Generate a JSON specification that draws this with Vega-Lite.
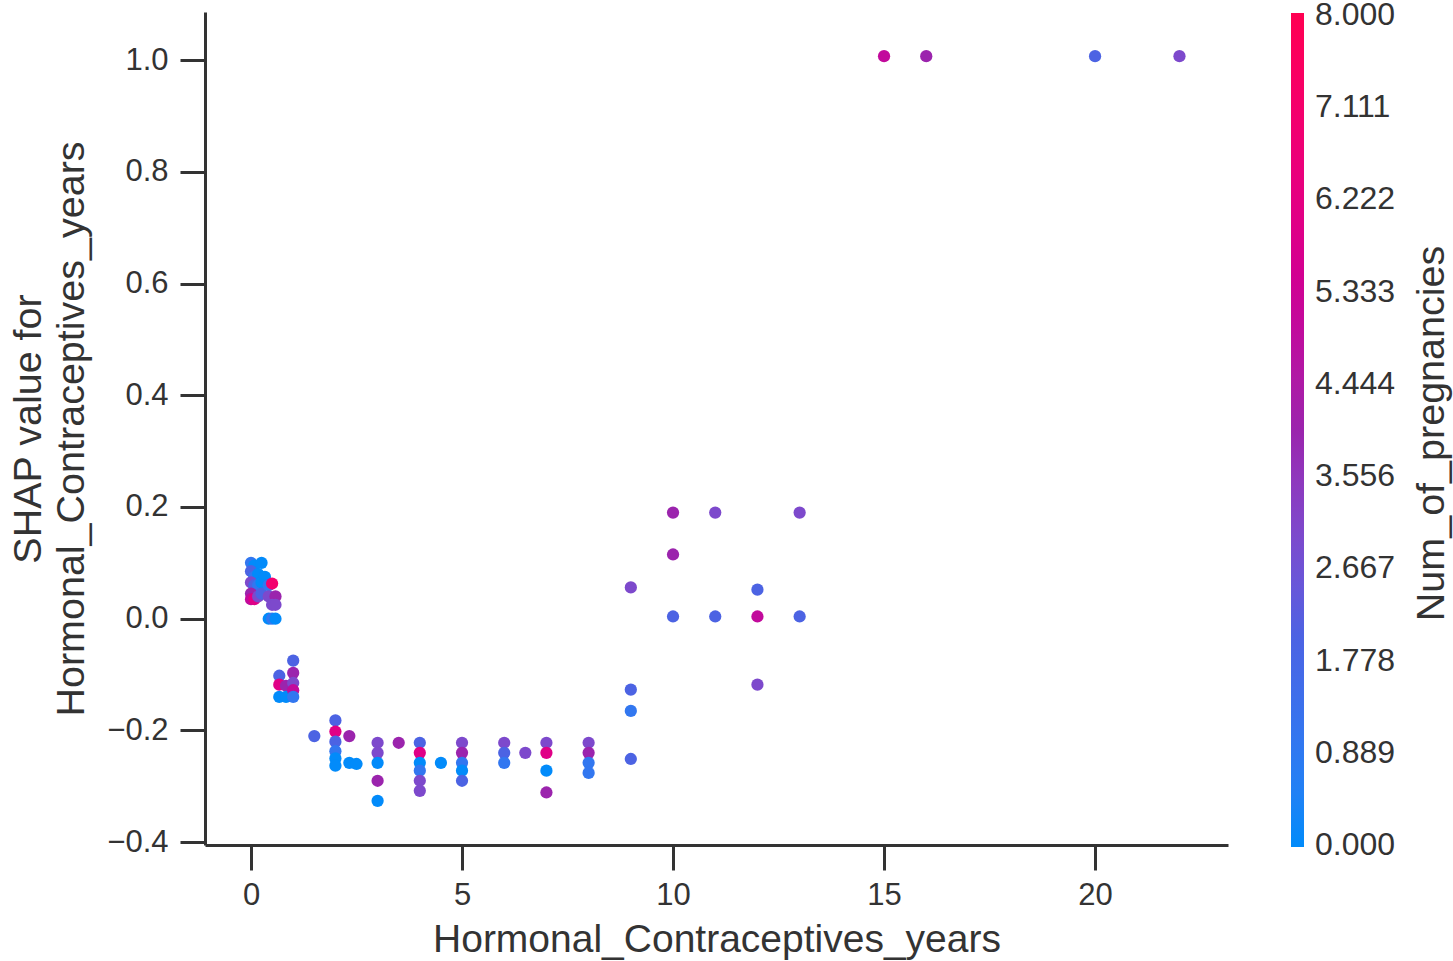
{
  "$schema": "https://vega.github.io/schema/vega-lite/v6.json",
  "width": 1023,
  "height": 833,
  "autosize": {"type": "none"},
  "padding": {"left": 205, "top": 12, "right": 225, "bottom": 116},
  "background": "white",
  "config": {"view": {"stroke": null}, "font": "Liberation Sans"},
  "title": {
    "text": "Num_of_pregnancies",
    "orient": "right",
    "frame": "group",
    "anchor": "middle",
    "angle": -90,
    "baseline": "top",
    "offset": 11,
    "dx": -5,
    "dy": -34,
    "font": "Liberation Sans",
    "fontSize": 39.5,
    "fontWeight": "normal",
    "color": "#333333"
  },
  "data": {
    "values": [
      {"years": 0, "shap": 0.10, "pregnancies": 1},
      {"years": 0.08, "shap": 0.095, "pregnancies": 0},
      {"years": 0.25, "shap": 0.10, "pregnancies": 0},
      {"years": 0, "shap": 0.085, "pregnancies": 2},
      {"years": 0.08, "shap": 0.075, "pregnancies": 1},
      {"years": 0.17, "shap": 0.08, "pregnancies": 0},
      {"years": 0, "shap": 0.065, "pregnancies": 3},
      {"years": 0.08, "shap": 0.06, "pregnancies": 2},
      {"years": 0.17, "shap": 0.06, "pregnancies": 1},
      {"years": 0.25, "shap": 0.065, "pregnancies": 0},
      {"years": 0, "shap": 0.045, "pregnancies": 4},
      {"years": 0, "shap": 0.035, "pregnancies": 5},
      {"years": 0.08, "shap": 0.035, "pregnancies": 6},
      {"years": 0.17, "shap": 0.04, "pregnancies": 3},
      {"years": 0.25, "shap": 0.045, "pregnancies": 2},
      {"years": 0.33, "shap": 0.075, "pregnancies": 0},
      {"years": 0.42, "shap": 0.06, "pregnancies": 1},
      {"years": 0.5, "shap": 0.063, "pregnancies": 7},
      {"years": 0.42, "shap": 0.04, "pregnancies": 3},
      {"years": 0.58, "shap": 0.04, "pregnancies": 4},
      {"years": 0.5, "shap": 0.025, "pregnancies": 3},
      {"years": 0.58, "shap": 0.025, "pregnancies": 3},
      {"years": 0.42, "shap": 0.0, "pregnancies": 0},
      {"years": 0.5, "shap": 0.0, "pregnancies": 1},
      {"years": 0.58, "shap": 0.0, "pregnancies": 0},
      {"years": 0.67, "shap": -0.102, "pregnancies": 2},
      {"years": 0.67, "shap": -0.118, "pregnancies": 6},
      {"years": 0.67, "shap": -0.14, "pregnancies": 0},
      {"years": 0.83, "shap": -0.12, "pregnancies": 4},
      {"years": 0.83, "shap": -0.14, "pregnancies": 0},
      {"years": 1, "shap": -0.075, "pregnancies": 2},
      {"years": 1, "shap": -0.097, "pregnancies": 4},
      {"years": 1, "shap": -0.115, "pregnancies": 3},
      {"years": 1, "shap": -0.128, "pregnancies": 5},
      {"years": 1, "shap": -0.14, "pregnancies": 1},
      {"years": 1.5, "shap": -0.21, "pregnancies": 2},
      {"years": 2, "shap": -0.182, "pregnancies": 2},
      {"years": 2, "shap": -0.202, "pregnancies": 6},
      {"years": 2, "shap": -0.22, "pregnancies": 2},
      {"years": 2, "shap": -0.237, "pregnancies": 1},
      {"years": 2, "shap": -0.25, "pregnancies": 0},
      {"years": 2, "shap": -0.263, "pregnancies": 0},
      {"years": 2.33, "shap": -0.21, "pregnancies": 4},
      {"years": 2.33, "shap": -0.258, "pregnancies": 0},
      {"years": 2.5, "shap": -0.26, "pregnancies": 0},
      {"years": 3, "shap": -0.222, "pregnancies": 3},
      {"years": 3, "shap": -0.24, "pregnancies": 3},
      {"years": 3, "shap": -0.258, "pregnancies": 0},
      {"years": 3, "shap": -0.29, "pregnancies": 4},
      {"years": 3, "shap": -0.326, "pregnancies": 0},
      {"years": 3.5, "shap": -0.222, "pregnancies": 4},
      {"years": 4, "shap": -0.222, "pregnancies": 2},
      {"years": 4, "shap": -0.24, "pregnancies": 6},
      {"years": 4, "shap": -0.258, "pregnancies": 0},
      {"years": 4, "shap": -0.272, "pregnancies": 1},
      {"years": 4, "shap": -0.29, "pregnancies": 3},
      {"years": 4, "shap": -0.308, "pregnancies": 3},
      {"years": 4.5, "shap": -0.258, "pregnancies": 0},
      {"years": 5, "shap": -0.222, "pregnancies": 3},
      {"years": 5, "shap": -0.24, "pregnancies": 4},
      {"years": 5, "shap": -0.258, "pregnancies": 1},
      {"years": 5, "shap": -0.272, "pregnancies": 0},
      {"years": 5, "shap": -0.29, "pregnancies": 2},
      {"years": 6, "shap": -0.222, "pregnancies": 3},
      {"years": 6, "shap": -0.24, "pregnancies": 2},
      {"years": 6, "shap": -0.258, "pregnancies": 1},
      {"years": 6.5, "shap": -0.24, "pregnancies": 3},
      {"years": 7, "shap": -0.222, "pregnancies": 3},
      {"years": 7, "shap": -0.24, "pregnancies": 6},
      {"years": 7, "shap": -0.272, "pregnancies": 0},
      {"years": 7, "shap": -0.311, "pregnancies": 4},
      {"years": 8, "shap": -0.222, "pregnancies": 3},
      {"years": 8, "shap": -0.24, "pregnancies": 4},
      {"years": 8, "shap": -0.258, "pregnancies": 1},
      {"years": 8, "shap": -0.276, "pregnancies": 1},
      {"years": 9, "shap": 0.056, "pregnancies": 3},
      {"years": 9, "shap": -0.127, "pregnancies": 2},
      {"years": 9, "shap": -0.165, "pregnancies": 1},
      {"years": 9, "shap": -0.251, "pregnancies": 2},
      {"years": 10, "shap": 0.19, "pregnancies": 4},
      {"years": 10, "shap": 0.115, "pregnancies": 4},
      {"years": 10, "shap": 0.004, "pregnancies": 2},
      {"years": 11, "shap": 0.19, "pregnancies": 3},
      {"years": 11, "shap": 0.004, "pregnancies": 2},
      {"years": 12, "shap": 0.052, "pregnancies": 2},
      {"years": 12, "shap": 0.004, "pregnancies": 5},
      {"years": 12, "shap": -0.118, "pregnancies": 3},
      {"years": 13, "shap": 0.19, "pregnancies": 3},
      {"years": 13, "shap": 0.004, "pregnancies": 2},
      {"years": 15, "shap": 1.007, "pregnancies": 5},
      {"years": 16, "shap": 1.007, "pregnancies": 4},
      {"years": 20, "shap": 1.007, "pregnancies": 2},
      {"years": 22, "shap": 1.007, "pregnancies": 3}
    ]
  },
  "mark": {"type": "circle", "size": 150, "opacity": 1},
  "encoding": {
    "x": {
      "field": "years",
      "type": "quantitative",
      "scale": {"domain": [-1.09, 23.15], "nice": false, "zero": false},
      "axis": {
        "title": "Hormonal_Contraceptives_years",
        "values": [0, 5, 10, 15, 20],
        "format": "d",
        "grid": false,
        "domainColor": "#333333",
        "domainWidth": 3,
        "tickColor": "#333333",
        "tickWidth": 3,
        "tickSize": 25,
        "labelFont": "Liberation Sans",
        "labelFontSize": 31,
        "labelColor": "#333333",
        "labelPadding": 10,
        "titleFont": "Liberation Sans",
        "titleFontSize": 39,
        "titleFontWeight": "normal",
        "titleColor": "#333333",
        "titlePadding": 10
      }
    },
    "y": {
      "field": "shap",
      "type": "quantitative",
      "scale": {"domain": [-0.405, 1.086], "nice": false, "zero": false},
      "axis": {
        "title": ["SHAP value for", "Hormonal_Contraceptives_years"],
        "values": [-0.4, -0.2, 0, 0.2, 0.4, 0.6, 0.8, 1.0],
        "format": ".1f",
        "grid": false,
        "domainColor": "#333333",
        "domainWidth": 3,
        "tickColor": "#333333",
        "tickWidth": 3,
        "tickSize": 25,
        "labelFont": "Liberation Sans",
        "labelFontSize": 31,
        "labelColor": "#333333",
        "labelPadding": 12,
        "titleFont": "Liberation Sans",
        "titleFontSize": 39.5,
        "titleFontWeight": "normal",
        "titleColor": "#333333",
        "titleLineHeight": 43,
        "titlePadding": 15
      }
    },
    "color": {
      "field": "pregnancies",
      "type": "quantitative",
      "scale": {
        "domain": [-0.02, 8.02],
        "range": ["#008bfa", "#4b63e3", "#9b24ad", "#e00086", "#ff0051"],
        "interpolate": "hcl"
      },
      "legend": {
        "orient": "none",
        "legendX": 1086,
        "legendY": 0.925,
        "direction": "vertical",
        "gradientLength": 834.15,
        "gradientThickness": 13,
        "gradientStrokeWidth": 0,
        "values": [0, 0.888889, 1.777778, 2.666667, 3.555556, 4.444444, 5.333333, 6.222222, 7.111111, 8],
        "format": ".3f",
        "labelFont": "Liberation Sans",
        "labelFontSize": 32,
        "labelColor": "#333333",
        "labelOffset": 11,
        "labelOverlap": false,
        "title": null,
        "padding": 0
      }
    }
  }
}
